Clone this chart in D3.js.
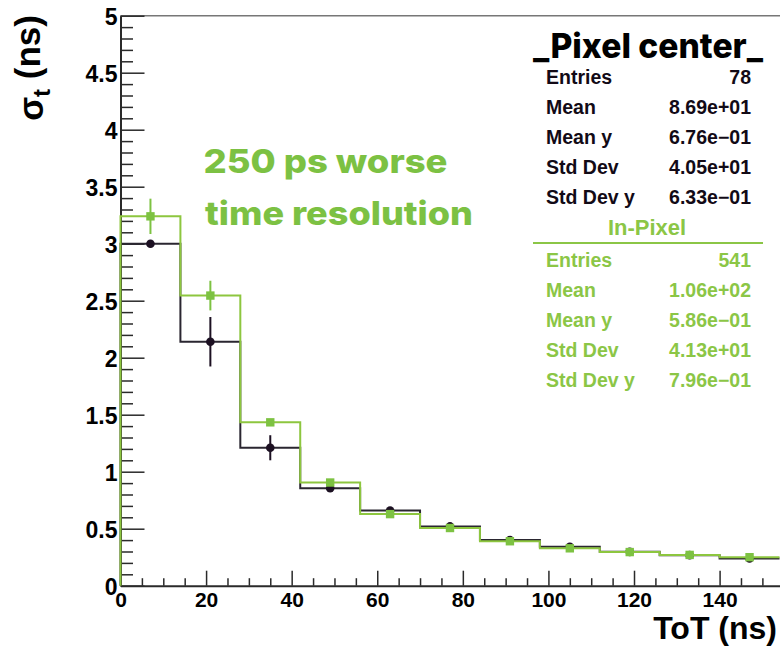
<!DOCTYPE html>
<html>
<head>
<meta charset="utf-8">
<script src="https://cdn.jsdelivr.net/npm/d3@7"></script>
<style>
  html, body { margin: 0; padding: 0; background: #fff; }
  svg { display: block; }
</style>
</head>
<body>
<svg id="chart" width="780" height="647"></svg>
<script>
// ToT bins (ns): centre of each 14 ns bin
const binCenters = [7, 21, 35, 49, 63, 77, 91, 105, 119, 133, 147];
const binWidth = 14;

// Time resolution sigma_t (ns) per ToT bin
const pixelCenter    = [3.00, 2.14, 1.21, 0.855, 0.66, 0.52, 0.40, 0.342, 0.297, 0.268, 0.238];
const pixelCenterErr = [0.03, 0.217, 0.11, 0.03, 0.03, 0.02, 0.02, 0.015, 0.015, 0.015, 0.015];
const inPixel        = [3.24, 2.545, 1.433, 0.905, 0.628, 0.506, 0.39, 0.328, 0.295, 0.27, 0.25];
const inPixelErr     = [0.155, 0.13, 0.025, 0.02, 0.02, 0.015, 0.015, 0.015, 0.015, 0.015, 0.015];

// Axis ticks
const xMajorTicks = [0, 20, 40, 60, 80, 100, 120, 140];
const yMajorTicks = [0, 0.5, 1, 1.5, 2, 2.5, 3, 3.5, 4, 4.5, 5];
const yTickLabels = ["0", "0.5", "1", "1.5", "2", "2.5", "3", "3.5", "4", "4.5", "5"];

// Statistics boxes
const statNames = ["Entries", "Mean", "Mean y", "Std Dev", "Std Dev y"];
const pixelCenterStats = ["78", "8.69e+01", "6.76e\u221201", "4.05e+01", "6.33e\u221201"];
const inPixelStats = ["541", "1.06e+02", "5.86e\u221201", "4.13e+01", "7.96e\u221201"];

const annotationLines = ["250 ps worse", "time resolution"];

const BLACK_LINE = "#2a2630";
const BLACK_MARK = "#1c1022";
const GREEN_LINE = "#8dc63f";
const GREEN_MARK = "#7dc242";
const GREEN_TEXT = "#7cc143";
const GREEN_STAT = "#8bc646";
const AXIS = "#2a2a2a";
const HELV = "'Liberation Sans', Arial, Helvetica, sans-serif";
const GEO = "Inter, 'Open Sans', sans-serif";

const svg = d3.select("#chart");

const x = d3.scaleLinear().domain([0, 154]).range([120.5, 779.5]);
const y = d3.scaleLinear().domain([0, 5]).range([585.7, 15.7]);

// Top frame line
svg.append("line")
  .attr("x1", x(0)).attr("x2", 780)
  .attr("y1", y(5)).attr("y2", y(5))
  .attr("stroke", "#777").attr("stroke-width", 1.5);

// X axis: major and minor ticks pointing inward
const xMinor = d3.range(0, 155, 5).filter(v => v % 20 !== 0);
svg.append("g")
  .attr("transform", `translate(0,${y(0)})`)
  .call(d3.axisBottom(x).tickValues(xMinor).tickSize(-7.5).tickSizeOuter(0).tickFormat(""))
  .call(g => g.select(".domain").remove())
  .call(g => g.selectAll("line").attr("stroke", AXIS).attr("stroke-width", 1.5));

const xAxisG = svg.append("g")
  .attr("transform", `translate(0,${y(0)})`)
  .call(d3.axisBottom(x).tickValues(xMajorTicks).tickSize(-15).tickSizeOuter(0).tickPadding(6.5).tickFormat(d3.format("d")));
xAxisG.select(".domain").attr("stroke", AXIS).attr("stroke-width", 2);
xAxisG.selectAll(".tick line").attr("stroke", AXIS).attr("stroke-width", 1.5);
xAxisG.selectAll("text")
  .attr("fill", "#000")
  .style("font-family", HELV).style("font-weight", "bold").style("font-size", "21px");

// Y axis: major and minor ticks pointing inward
const yMinor = d3.range(0, 51).filter(i => i % 5 !== 0).map(i => i / 10);
svg.append("g")
  .attr("transform", `translate(${x(0)},0)`)
  .call(d3.axisLeft(y).tickValues(yMinor).tickSize(-12.5).tickSizeOuter(0).tickFormat(""))
  .call(g => g.select(".domain").remove())
  .call(g => g.selectAll("line").attr("stroke", AXIS).attr("stroke-width", 1.5));

const yAxisG = svg.append("g")
  .attr("transform", `translate(${x(0)},0)`)
  .call(d3.axisLeft(y).tickValues(yMajorTicks).tickSize(-24).tickSizeOuter(0).tickPadding(3)
        .tickFormat((d, i) => yTickLabels[i]));
yAxisG.select(".domain").attr("stroke", AXIS).attr("stroke-width", 2);
yAxisG.selectAll(".tick line").attr("stroke", AXIS).attr("stroke-width", 1.5);
yAxisG.selectAll("text")
  .attr("fill", "#000")
  .attr("dy", "0.38em")
  .style("font-family", HELV).style("font-weight", "bold").style("font-size", "23px");

// Axis titles
svg.append("text")
  .attr("x", 777).attr("y", 639)
  .attr("text-anchor", "end")
  .style("font-family", HELV).style("font-weight", "bold").style("font-size", "32px")
  .text("ToT (ns)");

const yTitle = svg.append("text")
  .attr("transform", "translate(43,15) rotate(-90)")
  .attr("text-anchor", "end")
  .style("font-family", HELV).style("font-weight", "bold").style("font-size", "35px");
yTitle.append("tspan").text("\u03c3");
yTitle.append("tspan").attr("dy", "0.3em").style("font-size", "24px").text("t");
yTitle.append("tspan").attr("dy", "-0.3em").text(" (ns)");

// Step histogram outline: rises from zero at the first low edge
function stepPath(values) {
  const pts = [[binCenters[0] - binWidth / 2, 0]];
  values.forEach((v, i) => {
    pts.push([binCenters[i] - binWidth / 2, v]);
    pts.push([binCenters[i] + binWidth / 2, v]);
  });
  return d3.line().x(d => x(d[0])).y(d => y(d[1]))(pts);
}

function drawSeries(values, errs, lineColor, markColor, marker) {
  const g = svg.append("g");
  g.append("path")
    .attr("d", stepPath(values))
    .attr("fill", "none")
    .attr("stroke", lineColor)
    .attr("stroke-width", 2);
  g.selectAll(".err").data(values).join("line")
    .attr("x1", (d, i) => x(binCenters[i])).attr("x2", (d, i) => x(binCenters[i]))
    .attr("y1", (d, i) => y(d + errs[i])).attr("y2", (d, i) => y(d - errs[i]))
    .attr("stroke", markColor).attr("stroke-width", 2);
  if (marker === "circle") {
    g.selectAll(".mk").data(values).join("circle")
      .attr("cx", (d, i) => x(binCenters[i])).attr("cy", d => y(d))
      .attr("r", 4.3).attr("fill", markColor);
  } else {
    g.selectAll(".mk").data(values).join("rect")
      .attr("x", (d, i) => x(binCenters[i]) - 4.2).attr("y", d => y(d) - 4.2)
      .attr("width", 8.4).attr("height", 8.4).attr("fill", markColor);
  }
}

drawSeries(pixelCenter, pixelCenterErr, BLACK_LINE, BLACK_MARK, "circle");
drawSeries(inPixel, inPixelErr, GREEN_LINE, GREEN_MARK, "square");

// Annotation
function fitText(sel, width) {
  sel.attr("textLength", width).attr("lengthAdjust", "spacingAndGlyphs");
}
const ann = svg.append("g")
  .style("font-family", GEO).style("font-weight", "800").style("font-size", "33px")
  .attr("fill", GREEN_TEXT);
ann.append("text").attr("x", 203.5).attr("y", 172.5).text(annotationLines[0]).call(fitText, 244);
ann.append("text").attr("x", 205).attr("y", 225).text(annotationLines[1]).call(fitText, 268);

// Statistics: Pixel center
svg.append("text")
  .attr("x", 533).attr("y", 58)
  .style("font-family", GEO).style("font-weight", "800").style("font-size", "34px")
  .attr("fill", "#000")
  .text("_Pixel center_")
  .call(fitText, 230);

function statBlock(names, vals, y0, step, color) {
  const g = svg.append("g")
    .style("font-family", HELV).style("font-weight", "bold").style("font-size", "19.5px")
    .attr("fill", color);
  names.forEach((n, i) => {
    g.append("text").attr("x", 546).attr("y", y0 + i * step).text(n);
    g.append("text").attr("x", 751).attr("y", y0 + i * step).attr("text-anchor", "end").text(vals[i]);
  });
}
statBlock(statNames, pixelCenterStats, 83.5, 30, "#120a16");

// Statistics: In-Pixel
svg.append("text")
  .attr("x", 647).attr("y", 235).attr("text-anchor", "middle")
  .style("font-family", HELV).style("font-weight", "bold").style("font-size", "22px")
  .attr("fill", GREEN_STAT)
  .text("In-Pixel");
svg.append("line")
  .attr("x1", 533).attr("x2", 763).attr("y1", 243).attr("y2", 243)
  .attr("stroke", GREEN_STAT).attr("stroke-width", 2);
statBlock(statNames, inPixelStats, 266.5, 30.2, GREEN_STAT);
</script>
</body>
</html>
